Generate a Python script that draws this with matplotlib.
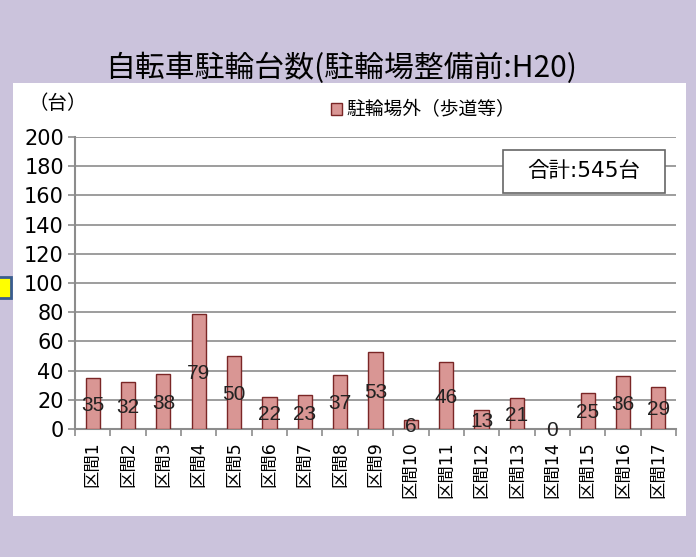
import matplotlib.pyplot as plt
import matplotlib.patches as mpatches
import numpy as np

plt.rcParams['font.family'] = ['DejaVu Sans', 'Noto Sans CJK JP']

# data
sections = ['区間' + str(i) for i in range(1, 18)]
counts = [35, 32, 38, 79, 50, 22, 23, 37, 53, 6, 46, 13, 21, 0, 25, 36, 29]
series_name = '駐輪場外（歩道等）'
y_ticks = list(range(0, 201, 20))

W, H = 696, 557
bg = '#cbc3dc'
bar_face = '#d99694'
bar_edge = '#7a2626'
grid_col = '#8c8c8c'
jp = ['Noto Sans CJK JP', 'DejaVu Sans']


def px(x, y, w, h):
    # pixel box (top-left origin) -> figure fraction
    return (x / W, 1 - (y + h) / H, w / W, h / H)


fig = plt.figure(figsize=(W / 100, H / 100), dpi=100, facecolor=bg)

# white chart panel
x0, y0, w0, h0 = px(13, 83, 673, 433)
fig.add_artist(mpatches.Rectangle((x0, y0), w0, h0, transform=fig.transFigure,
                                  facecolor='white', edgecolor='none', zorder=0))

# small yellow marker at the left edge
x1, y1, w1, h1 = px(-4, 277, 15, 21)
fig.add_artist(mpatches.Rectangle((x1, y1), w1, h1, transform=fig.transFigure,
                                  facecolor='#ffff00', edgecolor='#3a5d8f', lw=2, zorder=1))

fig.text(341 / W, 1 - 68 / H, '自転車駐輪台数(駐輪場整備前:H20)', ha='center', va='center',
         fontsize=21.5, color='black', family=jp)

ax = fig.add_axes(px(75, 137, 601, 292))
ax.set_facecolor('none')

x = np.arange(len(counts))
ax.bar(x, counts, width=0.4, color=bar_face, edgecolor=bar_edge, linewidth=1, zorder=3,
       label=series_name)

for i, v in enumerate(counts):
    ax.text(i, v / 2 - 1.3, str(v), ha='center', va='center', fontsize=15,
            family='Liberation Sans', color='#222222', zorder=4)

ax.set_xlim(-0.5, len(counts) - 0.5)
ax.set_ylim(0, 200)
ax.set_yticks(y_ticks)
ax.set_yticklabels([str(t) for t in y_ticks], fontsize=15)
ax.yaxis.grid(True, color=grid_col, linewidth=1.2, zorder=1)
ax.set_axisbelow(True)

ax.set_xticks(x)
ax.set_xticklabels(sections, rotation=90, fontsize=12.5)
ax.set_xticks(np.arange(-0.5, len(counts)), minor=True)
ax.tick_params(axis='x', which='major', length=0, pad=9)
ax.tick_params(axis='x', which='minor', length=5, color=grid_col, width=1.2)
ax.tick_params(axis='y', length=5, color=grid_col, width=1.2, pad=3)

for s in ['top', 'right']:
    ax.spines[s].set_visible(False)
for s in ['left', 'bottom']:
    ax.spines[s].set_color(grid_col)
    ax.spines[s].set_linewidth(1.5)

# unit label
fig.text(58 / W, 1 - 104 / H, '（台）', ha='center', va='center', fontsize=14, family=jp)

# legend
leg = fig.legend(loc='center', bbox_to_anchor=(423 / W, 1 - 110 / H), frameon=False,
                 prop={'family': jp, 'size': 13.5}, handlelength=0.6, handleheight=0.6,
                 handletextpad=0.2, borderpad=0)

# total box
x2, y2, w2, h2 = px(503, 150, 162, 43)
fig.add_artist(mpatches.Rectangle((x2, y2), w2, h2, transform=fig.transFigure,
                                  facecolor='white', edgecolor='#666666', lw=1.2, zorder=5))
fig.text(584 / W, 1 - 171 / H, '合計:545台', ha='center', va='center', fontsize=15.5,
         zorder=6)

fig.savefig('out.png', dpi=100, facecolor=bg)
